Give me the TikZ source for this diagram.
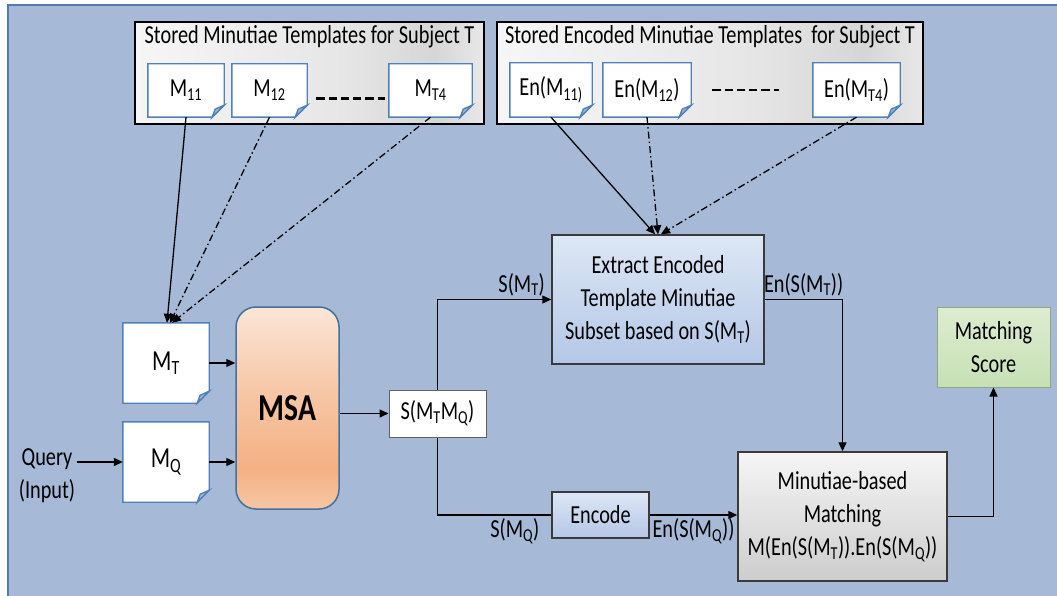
\documentclass[tikz,border=0pt]{standalone}
\usepackage{fontspec}
\setmainfont[FakeStretch=0.78]{Carlito}
\usetikzlibrary{arrows.meta,positioning,backgrounds}
\definecolor{panelblue}{HTML}{A6B9D7}
\definecolor{panelline}{HTML}{4F7CAC}
\definecolor{docblue}{HTML}{4F81BD}
\definecolor{foldblue}{HTML}{A6B8CE}
\definecolor{msaline}{HTML}{41719C}
\definecolor{msatop}{HTML}{FBE5D6}
\definecolor{msamid}{HTML}{F4B183}
\definecolor{msamid2}{HTML}{F6C4A2}
\definecolor{msabot}{HTML}{F7C6A4}
\definecolor{exttop}{HTML}{DDE7F5}
\definecolor{extbot}{HTML}{B4C7E7}
\definecolor{mbmtop}{HTML}{F5F5F5}
\definecolor{mbmbot}{HTML}{CDCDCD}
\definecolor{scoretop}{HTML}{DDEDD0}
\definecolor{scorebot}{HTML}{C6E0B4}
\definecolor{scoreline}{HTML}{8FA77A}
\definecolor{boxline}{HTML}{3A3A3A}
\definecolor{tmpllight}{HTML}{F6F6F6}
\definecolor{tmplmid}{HTML}{E6E6E6}
\definecolor{tmpldark}{HTML}{D6D6D6}
\definecolor{tmplend}{HTML}{E8E8E8}
\pgfdeclarehorizontalshading{tmplshade}{100bp}{color(0bp)=(tmpllight); color(25bp)=(tmpllight); color(55bp)=(tmplmid); color(68bp)=(tmpldark); color(75bp)=(tmplend); color(100bp)=(tmplend)}
\pgfdeclareverticalshading{msashade}{100bp}{color(0bp)=(msabot); color(25bp)=(msabot); color(35bp)=(msamid); color(52bp)=(msamid2); color(75bp)=(msatop); color(100bp)=(msatop)}
% sheet outline with folded corner, drawn behind a named node
\newcommand{\docfold}[1]{%
  \filldraw[docedge] (#1.north west) -- (#1.north east) -- ([yshift=12pt]#1.south east)
    -- ([xshift=-12pt]#1.south east) -- (#1.south west) -- cycle;
  \filldraw[docedge,fill=foldblue] ([yshift=12pt]#1.south east) -- ([xshift=-12pt]#1.south east)
    -- ([xshift=-9pt,yshift=8pt]#1.south east) -- cycle;}

\begin{document}
\begin{tikzpicture}[x=1pt,y=-1pt,
  every node/.style={font=\fontsize{26}{33}\selectfont},
  docbox/.style={inner sep=0pt,minimum height=53pt},
  docedge/.style={draw=docblue,line width=1.4pt,fill=white},
  tmplbox/.style={draw=black,line width=1.8pt,shade,shading=tmplshade,inner sep=0pt,minimum height=102pt},
  procbox/.style={draw=boxline,line width=1.5pt,inner sep=0pt,align=center},
  arr/.style={-{Triangle[length=9pt,width=8pt]},line width=1.3pt},
  dashdot/.style={dash pattern=on 7pt off 3pt on 1.5pt off 3pt},
  gapline/.style={line width=2.3pt,dash pattern=on 8.3pt off 4pt}]
  \useasboundingbox (0,0) rectangle (1057,596);
  % panel and the two template frames
  \begin{scope}[on background layer]
    \fill[panelblue] (8,5) rectangle (1057,596);
    \draw[panelline,line width=2pt] (8,596) -- (8,5) -- (1057,5);
    \node[tmplbox,minimum width=349pt] (tmplL) at (309.5,73) {};
    \node[tmplbox,minimum width=426pt] (tmplR) at (710,73) {};
    \node[inner sep=2pt,below=2pt of tmplL.north] (titleL) {Stored Minutiae Templates for Subject T};
    \node[inner sep=2pt,below=2pt of tmplR.north] (titleR) {Stored Encoded Minutiae Templates~ for Subject T};
  \end{scope}

  % stored sheets
  \node[docbox,minimum width=76pt] (m11) at (186,90.5) {M\textsubscript{11}};
  \node[docbox,minimum width=75pt] (m12) at (269.5,90.5) {M\textsubscript{12}};
  \node[docbox,minimum width=83pt] (mt4) at (430.5,90.5) {M\textsubscript{T4}};
  \node[docbox,minimum width=82pt,minimum height=54pt] (en11) at (551,90) {En(M\textsubscript{11)}};
  \node[docbox,minimum width=88pt,minimum height=54pt] (en12) at (647,90) {En(M\textsubscript{12})};
  \node[docbox,minimum width=87pt,minimum height=54pt] (ent4) at (856.5,90) {En(M\textsubscript{T4})};
  \node[docbox,minimum width=86pt,minimum height=80pt,font=\fontsize{29}{33}\selectfont] (mt) at (166,363) {M\textsubscript{T}};
  \node[docbox,minimum width=86pt,minimum height=80pt,font=\fontsize{29}{33}\selectfont] (mq) at (166,462) {M\textsubscript{Q}};
  \begin{scope}[on background layer]
    \foreach \d in {m11,m12,mt4,en11,en12,ent4,mt,mq} {\docfold{\d}}
  \end{scope}
  \draw[gapline] ([xshift=9pt,yshift=-8pt]m12.east) -- ([xshift=-4pt,yshift=-8pt]mt4.west);
  \draw[gapline] ([xshift=21pt]en12.east) -- ([xshift=-34pt]ent4.west);

  % processing blocks
  \node[draw=msaline,line width=1.5pt,rounded corners=20pt,shade,shading=msashade,minimum width=103pt,minimum height=202pt,inner sep=0pt,font=\fontsize{38}{40}\selectfont\bfseries] (msa) at (287.5,408) {MSA};
  \node[draw=boxline!80,line width=1pt,fill=white,minimum width=97pt,minimum height=47pt,inner sep=0pt] (smm) at (437.5,413.5) {S(M\textsubscript{T}M\textsubscript{Q})};
  \node[procbox,top color=exttop,bottom color=extbot,minimum width=212pt,minimum height=129pt] (ext) at (658,299.5) {Extract Encoded\\Template Minutiae\\Subset based on S(M\textsubscript{T})};
  \node[procbox,top color=exttop,bottom color=extbot,minimum width=97pt,minimum height=46pt] (enc) at (600.5,515) {Encode};
  \node[procbox,top color=mbmtop,bottom color=mbmbot,minimum width=209pt,minimum height=129pt] (mbm) at (842.5,516.5) {Minutiae-based\\Matching\\M(En(S(M\textsubscript{T})).En(S(M\textsubscript{Q}))};
  \node[procbox,draw=scoreline,line width=1pt,top color=scoretop,bottom color=scorebot,minimum width=113pt,minimum height=80pt] (score) at (993.5,347) {Matching\\Score};
  \node[align=center,inner sep=2pt] (query) at (47,476) {Query\\(Input)};

  % connectors
  \draw[arr] (m11.south) -- ([xshift=1pt]mt.north);
  \draw[arr,dashdot] (m12.south) -- ([xshift=4pt]mt.north);
  \draw[arr,dashdot] (mt4.south) -- ([xshift=6pt]mt.north);
  \draw[arr] (en11.south) -- ([xshift=-3pt]ext.north);
  \draw[arr,dashdot] (en12.south) -- (ext.north);
  \draw[arr,dashdot] (ent4.south) -- ([xshift=3pt]ext.north);
  \draw[arr] (query.east |- mq.west) -- (mq.west);
  \draw[arr] (mt.east) -- (mt.east -| msa.west);
  \draw[arr] (mq.east) -- (mq.east -| msa.west);
  \draw[arr] (msa.east |- smm.west) -- (smm.west);
  \draw[arr] (smm.north) |- node[pos=0.87,above,inner sep=3pt] (lblsmt) {S(M\textsubscript{T})} (ext.west);
  \draw[line width=1.3pt] (smm.south) |- node[pos=0.84,below,inner sep=3pt] (lblsmq) {S(M\textsubscript{Q})} (enc.west);
  \draw[arr] (enc.east) -- node[below,inner sep=3pt] (lblensmq) {En(S(M\textsubscript{Q}))} (enc.east -| mbm.west);
  \draw[arr] (ext.east) -| node[pos=0.25,above,inner sep=3pt] (lblensmt) {En(S(M\textsubscript{T}))} (mbm.north);
  \draw[arr] (mbm.east) -| (score.south);
\end{tikzpicture}
\end{document}
